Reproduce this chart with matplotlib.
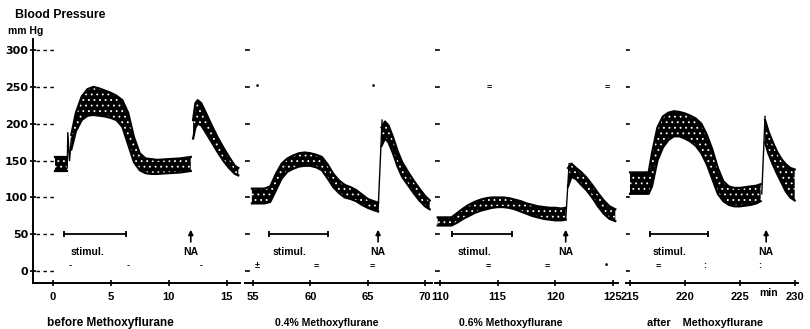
import numpy as np
import matplotlib
matplotlib.use('Agg')
import matplotlib.pyplot as plt

plt.rcParams['font.family'] = ['Liberation Sans', 'DejaVu Sans']
plt.rcParams['hatch.linewidth'] = 0.6

# --- data (time in min, pressure in mmHg) ---
# before Methoxyflurane
t1_base = [0.2, 1.2]
up1_base = [155, 155]
lo1_base = [136, 136]
t1_stim = [1.6, 2.0, 2.5, 3.0, 3.5, 4.0, 4.5, 5.0, 5.5, 6.0, 6.5, 7.0, 7.5, 8.0, 8.5, 9.0, 10.0, 11.0, 11.9]
up1_stim = [185, 215, 237, 247, 250, 248, 245, 242, 238, 232, 215, 182, 160, 153, 152, 151, 152, 153, 155]
lo1_stim = [165, 190, 205, 211, 212, 211, 210, 208, 205, 196, 172, 148, 137, 133, 132, 132, 133, 134, 136]
t1_na = [12.1, 12.3, 12.5, 12.8, 13.2, 13.7, 14.2, 14.7, 15.2, 15.7, 16.0]
up1_na = [205, 228, 232, 228, 215, 198, 182, 168, 155, 143, 140]
lo1_na = [180, 195, 200, 198, 188, 175, 162, 150, 140, 132, 130]
spk1_t = [1.25, 1.3, 1.45, 1.6]
spk1_y = [140, 188, 150, 180]

# 0.4 % Methoxyflurane
t2_stim = [54.9, 56.0, 56.5, 57.0, 57.5, 58.0, 58.5, 59.0, 59.5, 60.0, 60.5, 61.0, 61.5, 62.0, 62.5, 63.0, 63.5, 64.0, 64.5, 65.0, 65.5, 65.9]
up2_stim = [112, 112, 115, 132, 146, 153, 157, 160, 161, 160, 158, 155, 145, 132, 123, 117, 114, 110, 104, 98, 95, 93]
lo2_stim = [92, 92, 94, 110, 126, 135, 139, 142, 143, 143, 141, 137, 126, 114, 106, 100, 98, 95, 90, 86, 83, 81]
t2_na = [66.2, 66.5, 66.8, 67.2, 67.6, 68.0, 68.5, 69.0, 69.5, 70.0, 70.4]
up2_na = [195, 203, 198, 182, 163, 148, 135, 123, 112, 102, 96]
lo2_na = [170, 180, 175, 160, 142, 128, 117, 106, 96, 88, 84]
spk2_t = [65.9, 66.25]
spk2_y = [82, 205]

# 0.6 % Methoxyflurane
t3_stim = [109.8, 111.0, 111.5, 112.0, 112.5, 113.0, 113.5, 114.0, 114.5, 115.0, 115.5, 116.0, 116.5, 117.0, 117.5, 118.0, 118.5, 119.0, 119.5, 120.0, 120.5, 120.9]
up3_stim = [73, 73, 79, 85, 90, 94, 97, 99, 100, 100, 100, 99, 97, 95, 92, 90, 88, 87, 86, 86, 85, 86]
lo3_stim = [62, 62, 66, 71, 75, 79, 82, 84, 86, 87, 87, 86, 84, 81, 78, 75, 73, 71, 70, 69, 69, 70]
t3_na = [121.1, 121.4, 121.8, 122.2, 122.7, 123.2, 123.7, 124.2, 124.7, 125.2]
up3_na = [140, 146, 140, 135, 127, 117, 106, 96, 88, 84]
lo3_na = [115, 128, 125, 118, 110, 100, 88, 78, 71, 68]
spk3_t = [120.9, 121.2]
spk3_y = [70, 146]

# after Methoxyflurane
t4_stim = [215.0, 216.7, 217.0, 217.5, 218.0, 218.5, 219.0, 219.5, 220.0, 220.5, 221.0, 221.5, 222.0, 222.5, 223.0, 223.5, 224.0, 224.5, 225.0, 225.5, 226.0, 226.5, 226.9]
up4_stim = [134, 134, 160, 195, 210, 215, 217, 216, 214, 211, 207, 200, 185, 165, 140, 122, 115, 113, 113, 114, 115, 116, 118]
lo4_stim = [105, 105, 115, 150, 168, 178, 183, 183, 180, 176, 170, 160, 145, 125, 105, 95, 90, 88, 88, 89, 90, 92, 95]
t4_na = [227.3, 227.6, 228.0, 228.4, 228.8, 229.2, 229.6, 230.0]
up4_na = [205, 190, 175, 162, 152, 145, 140, 138]
lo4_na = [175, 160, 145, 132, 120, 108, 100, 96]
spk4_t = [227.0, 227.3]
spk4_y = [105, 210]

# stimulation periods and noradrenaline injections
stim_start = [1.0, 56.4, 111.0, 216.8]
stim_end = [6.3, 61.5, 116.2, 222.1]
na_time = [11.9, 65.9, 120.9, 227.4]
stim_text_x = [3.0, 58.2, 113.0, 218.6]

xlims = [(-1.7, 16.1), (54.3, 70.6), (109.6, 125.4), (214.6, 230.3)]
xticks = [[0, 5, 10, 15], [55, 60, 65, 70], [110, 115, 120, 125], [215, 220, 225, 230]]
conditions = ['before Methoxyflurane', '0.4% Methoxyflurane', '0.6% Methoxyflurane', 'after    Methoxyflurane']
cond_x = [0.136, 0.404, 0.630, 0.870]
cond_size = [8.5, 7.5, 7.5, 7.8]
yticks = [0, 50, 100, 150, 200, 250, 300]

# small time marks on the record
marks_x = [[1.5, 6.5, 12.8], [55.4, 60.5, 65.4], [114.2, 119.3, 124.4], [217.6, 221.8, 226.8]]
marks_s = [['-', '-', '-'], ['±', '=', '='], ['=', '=', '•'], ['=', ':', ':']]
top_marks_x = [[], [55.4, 65.5], [114.3, 124.5], []]
top_marks_s = [[], ['•', '•'], ['=', '='], []]

bands = [
    [(t1_base, up1_base, lo1_base), (t1_stim, up1_stim, lo1_stim), (t1_na, up1_na, lo1_na)],
    [(t2_stim, up2_stim, lo2_stim), (t2_na, up2_na, lo2_na)],
    [(t3_stim, up3_stim, lo3_stim), (t3_na, up3_na, lo3_na)],
    [(t4_stim, up4_stim, lo4_stim), (t4_na, up4_na, lo4_na)],
]
spikes = [(spk1_t, spk1_y), (spk2_t, spk2_y), (spk3_t, spk3_y), (spk4_t, spk4_y)]

W, H = 810, 329
fig = plt.figure(figsize=(W / 100, H / 100), dpi=100)

# panel left/right edges in pixels
px_edges = [(33, 239.5), (245, 432), (435.4, 617.6), (625.6, 798)]
ax_bottom = (H - 283) / H
ax_height = 244 / H
ylim = (-16, 315)

for i in range(4):
    l, r = px_edges[i]
    ax = fig.add_axes([l / W, ax_bottom, (r - l) / W, ax_height])
    ax.set_xlim(*xlims[i])
    ax.set_ylim(*ylim)
    ax.patch.set_alpha(0)
    for s in ['top', 'right']:
        ax.spines[s].set_visible(False)
    ax.spines['bottom'].set_linewidth(1.4)

    for t, up, lo in bands[i]:
        ax.fill_between(t, lo, up, facecolor='black', edgecolor='white', hatch='...', linewidth=0)
        ax.plot(t, up, color='black', lw=1.6)
        ax.plot(t, lo, color='black', lw=1.6)
    ax.plot(spikes[i][0], spikes[i][1], color='black', lw=1.0)

    # stimulation bar
    ax.plot([stim_start[i], stim_end[i]], [50, 50], color='black', lw=1.3)
    ax.plot([stim_start[i], stim_end[i]], [50, 50], ls='none', marker='|', ms=4, mew=1.3, color='black')
    ax.text(stim_text_x[i], 26, 'stimul.', ha='center', va='center', fontsize=7.5, fontweight='bold')

    # NA arrow
    ax.annotate('', xy=(na_time[i], 60), xytext=(na_time[i], 36),
                arrowprops=dict(arrowstyle='-|>', color='black', lw=1.2, mutation_scale=7))
    ax.text(na_time[i], 26, 'NA', ha='center', va='center', fontsize=7.5, fontweight='bold')

    # dashed level stubs
    x0 = xlims[i][0]
    for yv in yticks:
        if i == 0:
            ax.plot([x0 + 0.25, x0 + 1.9], [yv, yv], color='black', lw=1.0, ls=(0, (2.5, 2.5)))
        else:
            ax.plot([x0 - 0.15, x0 + 0.35], [yv, yv], color='black', lw=1.2)

    for xm, sm in zip(marks_x[i], marks_s[i]):
        ax.text(xm, 8, sm, ha='center', va='center', fontsize=6.5, fontweight='bold')
    for xm, sm in zip(top_marks_x[i], top_marks_s[i]):
        ax.text(xm, 250, sm, ha='center', va='center', fontsize=6.5, fontweight='bold')

    ax.set_xticks(xticks[i])
    ax.set_xticklabels([str(v) for v in xticks[i]], fontsize=8, fontweight='bold')
    ax.tick_params(axis='x', direction='inout', length=5, width=1.2, pad=4)

    if i == 0:
        ax.set_yticks(yticks)
        ax.set_yticklabels([str(v) for v in yticks], fontsize=8, fontweight='bold',
                           family=['DejaVu Sans'])
        ax.tick_params(axis='y', direction='inout', length=5, width=1.2, pad=1)
        ax.spines['left'].set_linewidth(1.4)
    else:
        ax.spines['left'].set_visible(False)
        ax.set_yticks([])

    if i == 3:
        ax.text(227.6, -30, 'min', ha='center', va='center', fontsize=7.5, fontweight='bold')

    fig.text(cond_x[i], 0.018, conditions[i], ha='center', va='center',
             fontsize=cond_size[i], fontweight='bold')

fig.text(0.019, 0.955, 'Blood Pressure', ha='left', va='center', fontsize=8.8, fontweight='bold')
fig.text(0.010, 0.905, 'mm Hg', ha='left', va='center', fontsize=7.5, fontweight='bold')

fig.savefig('out.png', dpi=100)
